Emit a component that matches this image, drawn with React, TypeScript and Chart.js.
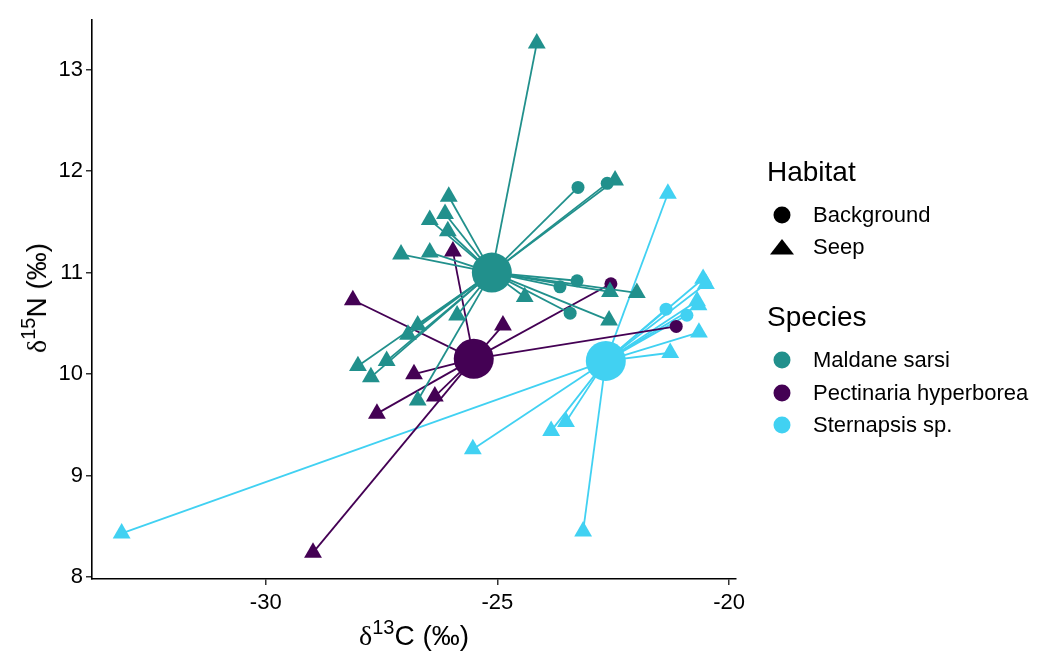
import React, { useEffect, useRef } from "react";
import { Chart, registerables } from "chart.js";

Chart.register(...registerables);

// ---- Data (δ13C = x, δ15N = y) ----
const speciesNames = ["Maldane sarsi", "Pectinaria hyperborea", "Sternapsis sp."];
const speciesColors = ["#21908C", "#440154", "#41D1F2"];
const habitatNames = ["Background", "Seep"];

const centroidX = [-25.12, -25.51, -22.66];
const centroidY = [11.0, 10.15, 10.13];

// Maldane sarsi
const maldaneBackgroundX = [-23.26, -22.63, -23.28, -23.65, -23.43];
const maldaneBackgroundY = [11.84, 11.88, 10.92, 10.86, 10.6];
const maldaneSeepX = [-24.15, -22.46, -26.05, -26.13, -26.46, -26.07, -27.08, -26.46, -24.41, -22.57, -21.99, -22.59, -25.87, -26.72, -26.93, -27.39, -28.01, -27.73, -26.72];
const maldaneSeepY = [13.26, 11.91, 11.75, 11.58, 11.52, 11.41, 11.18, 11.2, 10.76, 10.81, 10.8, 10.53, 10.58, 10.48, 10.39, 10.13, 10.08, 9.97, 9.74];

// Pectinaria hyperborea
const pectinariaBackgroundX = [-22.55, -21.14];
const pectinariaBackgroundY = [10.89, 10.47];
const pectinariaSeepX = [-25.96, -28.12, -24.88, -26.8, -27.6, -26.35, -28.98];
const pectinariaSeepY = [11.21, 10.73, 10.48, 10.0, 9.61, 9.78, 8.24];

// Sternapsis sp.
const sternapsisBackgroundX = [-21.36, -20.91];
const sternapsisBackgroundY = [10.64, 10.58];
const sternapsisSeepX = [-33.11, -25.53, -23.84, -23.52, -23.15, -21.32, -20.56, -20.5, -20.69, -20.66, -20.65, -21.27];
const sternapsisSeepY = [8.43, 9.26, 9.44, 9.53, 8.45, 11.78, 10.94, 10.89, 10.72, 10.68, 10.41, 10.21];

const xTickStep = 5;
const yTickStep = 1;
const xMin = -33.75;
const xMax = -19.85;
const yMin = 7.98;
const yMax = 13.49;

const groups = [
  { bx: maldaneBackgroundX, by: maldaneBackgroundY, sx: maldaneSeepX, sy: maldaneSeepY },
  { bx: pectinariaBackgroundX, by: pectinariaBackgroundY, sx: pectinariaSeepX, sy: pectinariaSeepY },
  { bx: sternapsisBackgroundX, by: sternapsisBackgroundY, sx: sternapsisSeepX, sy: sternapsisSeepY },
];

const FONT = "'Liberation Sans', Arial, sans-serif";
const SERIF = "'Liberation Serif', 'DejaVu Serif', serif";

function buildDatasets() {
  const ds: any[] = [];
  // segments from centroid to each individual
  groups.forEach((g, i) => {
    const c = { x: centroidX[i], y: centroidY[i] };
    const xs = [...g.bx, ...g.sx];
    const ys = [...g.by, ...g.sy];
    xs.forEach((x, k) => {
      ds.push({
        type: "scatter",
        showLine: true,
        data: [c, { x, y: ys[k] }],
        borderColor: speciesColors[i],
        borderWidth: 1.8,
        pointRadius: 0,
        order: 3,
      });
    });
  });
  // individual points
  groups.forEach((g, i) => {
    ds.push({
      type: "scatter",
      label: speciesNames[i] + " " + habitatNames[0],
      data: g.bx.map((x, k) => ({ x, y: g.by[k] })),
      pointStyle: "circle",
      pointRadius: 6.5,
      backgroundColor: speciesColors[i],
      borderColor: speciesColors[i],
      borderWidth: 0,
      order: 2,
    });
    ds.push({
      type: "scatter",
      label: speciesNames[i] + " " + habitatNames[1],
      data: g.sx.map((x, k) => ({ x, y: g.sy[k] })),
      pointStyle: "triangle",
      pointRadius: 10.3,
      backgroundColor: speciesColors[i],
      borderColor: speciesColors[i],
      borderWidth: 0,
      order: 2,
    });
  });
  // centroids
  ds.push({
    type: "scatter",
    label: "centroids",
    data: centroidX.map((x, i) => ({ x, y: centroidY[i] })),
    pointStyle: "circle",
    pointRadius: 20,
    backgroundColor: speciesColors,
    borderColor: speciesColors,
    borderWidth: 0,
    order: 1,
  });
  return ds;
}

export default function App() {
  const ref = useRef<HTMLCanvasElement | null>(null);

  useEffect(() => {
    if (!ref.current) return;
    const axisCommon = {
      type: "linear",
      border: { display: true, color: "#000", width: 1.6 },
      grid: { drawOnChartArea: false, drawTicks: true, tickLength: 6, color: "#333", lineWidth: 1.5 },
    };
    const chart = new Chart(ref.current, {
      type: "scatter",
      data: { datasets: buildDatasets() },
      options: {
        animation: false,
        responsive: false,
        maintainAspectRatio: false,
        events: [],
        layout: { padding: { left: 0, top: 17, right: 304, bottom: 0 } },
        plugins: { legend: { display: false }, tooltip: { enabled: false } },
        scales: {
          x: {
            ...axisCommon,
            min: xMin,
            max: xMax,
            afterFit: (s: any) => {
              s.height = 73;
            },
            ticks: {
              stepSize: xTickStep,
              includeBounds: false,
              color: "#000",
              padding: 5,
              font: { family: FONT, size: 22 },
            },
          },
          y: {
            ...axisCommon,
            min: yMin,
            max: yMax,
            afterFit: (s: any) => {
              s.width = 92;
            },
            ticks: {
              stepSize: yTickStep,
              includeBounds: false,
              color: "#000",
              padding: 3,
              font: { family: FONT, size: 22 },
            },
          },
        },
      } as any,
    });
    return () => chart.destroy();
  }, []);

  const abs = (left: number, top: number, extra: any = {}) => ({
    position: "absolute" as const,
    left,
    top,
    whiteSpace: "nowrap" as const,
    lineHeight: 1,
    ...extra,
  });

  const legendRow = (y: number, label: string, symbol: React.ReactNode) => (
    <React.Fragment key={label}>
      <div style={abs(770, y - 12, { width: 24, height: 24 })}>{symbol}</div>
      <div style={abs(813, y, { fontSize: 22, fontFamily: FONT, transform: "translateY(-50%)", color: "#000" })}>{label}</div>
    </React.Fragment>
  );

  const circle = (color: string) => (
    <svg width="24" height="24"><circle cx="12" cy="12" r="8.5" fill={color} /></svg>
  );
  const triangle = (color: string) => (
    <svg width="24" height="24"><polygon points="12,4 24,19.5 0,19.5" fill={color} /></svg>
  );

  return (
    <div style={{ position: "absolute", left: 0, top: 0, width: 1040, height: 652, background: "#fff", overflow: "hidden" }}>
      <canvas ref={ref} width={1040} height={652} style={{ position: "absolute", left: 0, top: 0 }} />
      {/* x axis title */}
      <div style={abs(414, 636, { transform: "translate(-50%, -50%)", fontSize: 28, fontFamily: FONT, color: "#000" })}>
        <span style={{ fontFamily: SERIF }}>δ</span>
        <span style={{ fontSize: 20, position: "relative", top: -11 }}>13</span>C (‰)
      </div>
      {/* y axis title */}
      <div style={abs(37, 298, { transform: "translate(-50%, -50%) rotate(-90deg)", fontSize: 28, fontFamily: FONT, color: "#000" })}>
        <span style={{ fontFamily: SERIF }}>δ</span>
        <span style={{ fontSize: 20, position: "relative", top: -11 }}>15</span>N (‰)
      </div>
      {/* legend */}
      <div style={abs(767, 172, { transform: "translateY(-50%)", fontSize: 28, fontFamily: FONT, color: "#000" })}>Habitat</div>
      {legendRow(215, habitatNames[0], circle("#000"))}
      {legendRow(247, habitatNames[1], triangle("#000"))}
      <div style={abs(767, 317, { transform: "translateY(-50%)", fontSize: 28, fontFamily: FONT, color: "#000" })}>Species</div>
      {speciesNames.map((n, i) => legendRow(360 + i * 32.5, n, circle(speciesColors[i])))}
    </div>
  );
}
